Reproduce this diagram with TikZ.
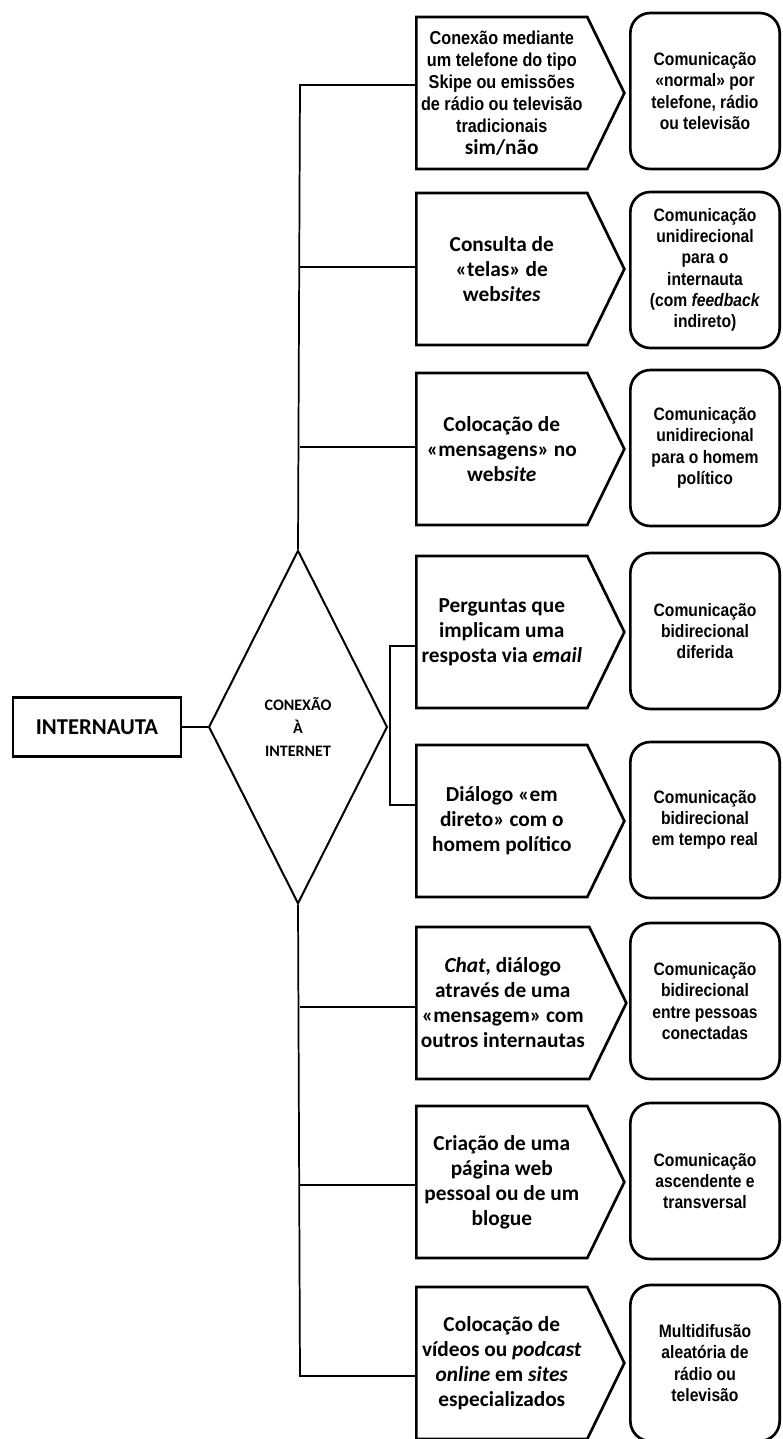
\documentclass[tikz,border=0pt]{standalone}
\usepackage{fontspec}
\setmainfont{Carlito}
\newfontfamily\condfont[FakeStretch=0.87]{Liberation Sans}
\usepackage{tikz}
\usetikzlibrary{shapes,positioning}
\tikzset{bx/.style={rectangle,draw,line width=1.8pt,minimum width=126pt,minimum height=44pt,font=\fontsize{17}{20}\selectfont\bfseries}}
\tikzset{dia/.style={diamond,draw,line width=1.5pt,minimum width=134pt,minimum height=265pt,inner sep=0pt,align=center,font=\fontsize{12}{17}\selectfont\bfseries}}
\tikzset{sig/.style={signal,signal to=east,signal pointer angle=128,draw,line width=2pt,minimum width=156pt,minimum height=114pt,anchor=west,align=center,font=\fontsize{16}{18.75}\selectfont\bfseries}}
\tikzset{rnd/.style={rectangle,rounded corners=15pt,draw,line width=2pt,minimum width=112pt,minimum height=117pt,align=center,font=\condfont\fontsize{13.5}{16}\selectfont\bfseries}}
\tikzset{ln/.style={line width=1.3pt}}

\begin{document}
\begin{tikzpicture}[x=0.75pt,y=-0.75pt]
    \useasboundingbox[fill=white] (0,0) rectangle (782,1439);

    \node[bx] (net) at (97,727) {INTERNAUTA};
    \node[dia] (con) at (298,727) {CONEXÃO\\À\\INTERNET};

    \node[sig,font=\condfont\fontsize{14}{16.5}\selectfont\bfseries] (m1) at (415,93) {Conexão mediante\\ um telefone do tipo\\ Skipe ou emissões\\ de rádio ou televisão\\ tradicionais\\ \normalfont\fontsize{16}{18.75}\selectfont\bfseries sim/não};
    \node[sig] (m2) at (415,269) {Consulta de\\ «telas» de\\ web\textit{sites}};
    \node[sig] (m3) at (415,449) {Colocação de\\ «mensagens» no\\ web\textit{site}};
    \node[sig] (m4) at (415,632) {Perguntas que\\ implicam uma\\ resposta via \textit{email}};
    \node[sig] (m5) at (415,821) {Diálogo «em\\ direto» com o\\ homem político};
    \node[sig] (m6) at (415,1003) {\textit{Chat}, diálogo\\ através de uma\\ «mensagem» com\\ outros internautas};
    \node[sig] (m7) at (415,1182) {Criação de uma\\ página web\\ pessoal ou de um\\ blogue};
    \node[sig] (m8) at (415,1363) {Colocação de\\ vídeos ou \textit{podcast}\\ \textit{online} em \textit{sites}\\ especializados};

    \node[rnd] (c1) at (705,91) {Comunicação\\ «normal» por\\ telefone, rádio\\ ou televisão};
    \node[rnd] (c2) at (705,270) {Comunicação\\ unidirecional\\ para o\\ internauta\\ (com \textit{feedback}\\ indireto)};
    \node[rnd] (c3) at (705,448) {Comunicação\\ unidirecional\\ para o homem\\ político};
    \node[rnd] (c4) at (705,631) {Comunicação\\ bidirecional\\ diferida};
    \node[rnd] (c5) at (705,820) {Comunicação\\ bidirecional\\ em tempo real};
    \node[rnd] (c6) at (705,1001) {Comunicação\\ bidirecional\\ entre pessoas\\ conectadas};
    \node[rnd] (c7) at (705,1181) {Comunicação\\ ascendente e\\ transversal};
    \node[rnd] (c8) at (705,1363) {Multidifusão\\ aleatória de\\ rádio ou\\ televisão};

    \coordinate (b1) at (300,85);
    \coordinate (b2) at (300,267);
    \coordinate (b3) at (300,447);
    \coordinate (k4) at (390,646);
    \coordinate (k5) at (390,805);
    \coordinate (b6) at (300,1007);
    \coordinate (b7) at (300,1185);
    \coordinate (b8) at (300,1376);

    \draw [ln] (net) to [] (con);
    \draw [ln] (con.north) -- (b1) -- (b1 -| m1.west);
    \draw [ln] (b2) to [] (b2 -| m2.west);
    \draw [ln] (b3) to [] (b3 -| m3.west);
    \draw [ln] (k4 -| m4.west) -- (k4) -- (k5) -- (k5 -| m5.west);
    \draw [ln] (con.south) -- (b8) -- (b8 -| m8.west);
    \draw [ln] (b6) to [] (b6 -| m6.west);
    \draw [ln] (b7) to [] (b7 -| m7.west);
\end{tikzpicture}
\end{document}
